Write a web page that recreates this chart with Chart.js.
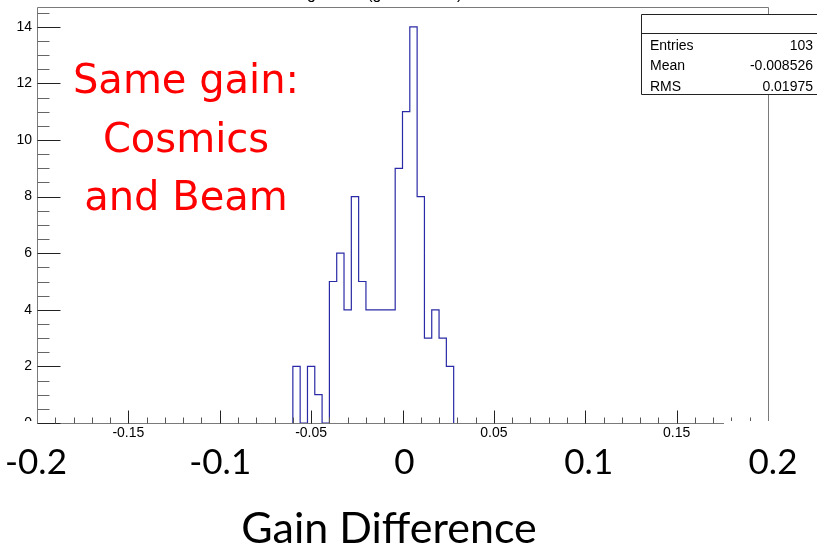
<!DOCTYPE html>
<html>
<head>
<meta charset="utf-8">
<script src="https://cdn.jsdelivr.net/npm/chart.js@4.4.1/dist/chart.umd.min.js"></script>
<style>
  html, body { margin: 0; padding: 0; background: #fff; }
  #wrap { width: 817px; height: 548px; }
</style>
</head>
<body>
<div id="wrap"><canvas id="gainChart" width="817" height="548"></canvas></div>
<script>
// histogram bins: lower edge of each bin and its count (bin width 0.004)
const binWidth = 0.004;
const binEdges = [-0.060, -0.056, -0.052, -0.048, -0.044, -0.040, -0.036, -0.032, -0.028, -0.024,
                  -0.020, -0.016, -0.012, -0.008, -0.004, 0.000, 0.004, 0.008, 0.012, 0.016,
                  0.020, 0.024];
const counts = [2, 0, 2, 1, 0, 5, 6, 4, 8, 5,
                4, 4, 4, 4, 9, 11, 14, 8, 3, 4,
                3, 2];

// axis labels
const smallTickLabels = [-0.15, -0.05, 0.05, 0.15];
const bigTickValues = [-0.2, -0.1, 0, 0.1, 0.2];
const bigTickLabels = ['-0.2', '-0.1', '0', '0.1', '0.2'];

// stats box
const statNames = ['Entries', 'Mean', 'RMS'];
const statValues = ['103', '-0.008526', '0.01975'];

const noteLines = ['Same gain:', 'Cosmics', 'and Beam'];
const axisTitle = 'Gain Difference';
const histTitle = 'gain diff (gain - beam)';

// outline points for a stepped line
const points = [{ x: binEdges[0], y: 0 }];
binEdges.forEach((e, i) => points.push({ x: e, y: counts[i] }));
points.push({ x: binEdges[binEdges.length - 1] + binWidth, y: 0 });

const sansFont = '"Liberation Sans", Arial, sans-serif';

const decorPlugin = {
    id: 'decor',
    afterDraw(chart) {
        const ctx = chart.ctx;
        const xs = chart.scales.x;
        const ys = chart.scales.y;
        const a = chart.chartArea;
        const L = Math.round(a.left) + 0.5;
        const R = Math.round(a.right) + 0.5;
        const T = Math.round(a.top) + 0.5;
        const B = Math.round(a.bottom) + 0.5;

        ctx.save();
        // clipped histogram title at the very top (only descenders show)
        ctx.fillStyle = '#000';
        ctx.font = '16px ' + sansFont;
        ctx.textAlign = 'left';
        ctx.textBaseline = 'alphabetic';
        ctx.fillText(histTitle, 307, -1);

        // frame and axis lines
        ctx.strokeStyle = '#7a7a7a';
        ctx.lineWidth = 1;
        ctx.beginPath();
        ctx.moveTo(L, B); ctx.lineTo(L, T); ctx.lineTo(R, T); ctx.lineTo(R, B);
        ctx.moveTo(L, B); ctx.lineTo(R, B);
        ctx.stroke();

        // y ticks, pointing inward
        for (let k = 0; k * 0.5 <= ys.max; k++) {
            const v = k * 0.5;
            const y = Math.round(ys.getPixelForValue(v)) + 0.5;
            const major = k % 4 === 0;
            ctx.strokeStyle = major ? '#222' : '#666';
            ctx.beginPath();
            ctx.moveTo(L, y);
            ctx.lineTo(L + (major ? 23 : 12), y);
            ctx.stroke();
        }
        // x ticks, pointing inward
        for (let k = -19; k <= 19; k++) {
            const x = Math.round(xs.getPixelForValue(k / 100)) + 0.5;
            const major = k % 5 === 0;
            ctx.strokeStyle = major ? '#222' : '#555';
            ctx.beginPath();
            ctx.moveTo(x, B);
            ctx.lineTo(x, B - (major ? 13 : 6));
            ctx.stroke();
        }

        // white boxes from the slide covering parts of the plot
        ctx.fillStyle = '#fff';
        ctx.fillRect(724, 421, 93, 127);
        ctx.fillRect(0, 421, 35, 19);

        // stats box
        const sx = 641.5, sy = 14.5, sb = 94.5;
        ctx.fillStyle = '#fff';
        ctx.fillRect(sx, sy, 817 - sx, sb - sy);
        ctx.strokeStyle = '#222';
        ctx.beginPath();
        ctx.moveTo(820, sy); ctx.lineTo(sx, sy); ctx.lineTo(sx, sb); ctx.lineTo(820, sb);
        ctx.moveTo(sx, 33.5); ctx.lineTo(820, 33.5);
        ctx.stroke();
        ctx.fillStyle = '#000';
        ctx.font = '14px ' + sansFont;
        statNames.forEach((name, i) => {
            const by = 50 + i * 20.3;
            ctx.textAlign = 'left';
            ctx.fillText(name, 650, by);
            ctx.textAlign = 'right';
            ctx.fillText(statValues[i], 813, by);
        });

        // red note
        ctx.fillStyle = '#ff0000';
        ctx.font = '40px "DejaVu Sans", sans-serif';
        ctx.textAlign = 'center';
        noteLines.forEach((line, i) => {
            ctx.fillText(line, 186, 93 + i * 58.5);
        });

        // slide axis labels
        ctx.fillStyle = '#000';
        ctx.font = '35px Lato, "Open Sans", sans-serif';
        bigTickValues.forEach((v, i) => {
            const x = xs.getPixelForValue(v) + 2 + v * 15;
            ctx.fillText(bigTickLabels[i], x, 474);
        });
        ctx.font = '43px Lato, "Open Sans", sans-serif';
        ctx.fillText(axisTitle, 389, 543);
        ctx.restore();
    }
};

const chart = new Chart(document.getElementById('gainChart'), {
    type: 'line',
    data: {
        datasets: [{
            data: points,
            stepped: true,
            borderColor: '#2a2aa6',
            borderWidth: 1.2,
            pointRadius: 0,
            fill: false,
            tension: 0
        }]
    },
    options: {
        responsive: false,
        animation: false,
        events: [],
        layout: { padding: { top: 7, right: 49, left: 0, bottom: 0 } },
        plugins: {
            legend: { display: false },
            tooltip: { enabled: false },
            title: { display: false }
        },
        scales: {
            x: {
                type: 'linear',
                min: -0.2,
                max: 0.2,
                afterFit: s => { s.height = 125; s.paddingLeft = 0; s.paddingRight = 0; },
                grid: { display: false, drawTicks: false },
                border: { display: false },
                ticks: {
                    stepSize: 0.05,
                    autoSkip: false,
                    maxRotation: 0,
                    includeBounds: false,
                    padding: 2,
                    color: '#000',
                    font: { family: sansFont, size: 14 },
                    callback: function(value) {
                        const v = Math.round(value * 100) / 100;
                        return smallTickLabels.includes(v) ? String(v) : '';
                    }
                }
            },
            y: {
                min: 0,
                max: 14.7,
                afterFit: s => { s.width = 37; s.paddingTop = 0; s.paddingBottom = 0; },
                grid: { display: false, drawTicks: false },
                border: { display: false },
                ticks: {
                    stepSize: 2,
                    includeBounds: false,
                    padding: 5,
                    color: '#000',
                    font: { family: sansFont, size: 14 }
                }
            }
        }
    },
    plugins: [decorPlugin]
});
</script>
</body>
</html>
